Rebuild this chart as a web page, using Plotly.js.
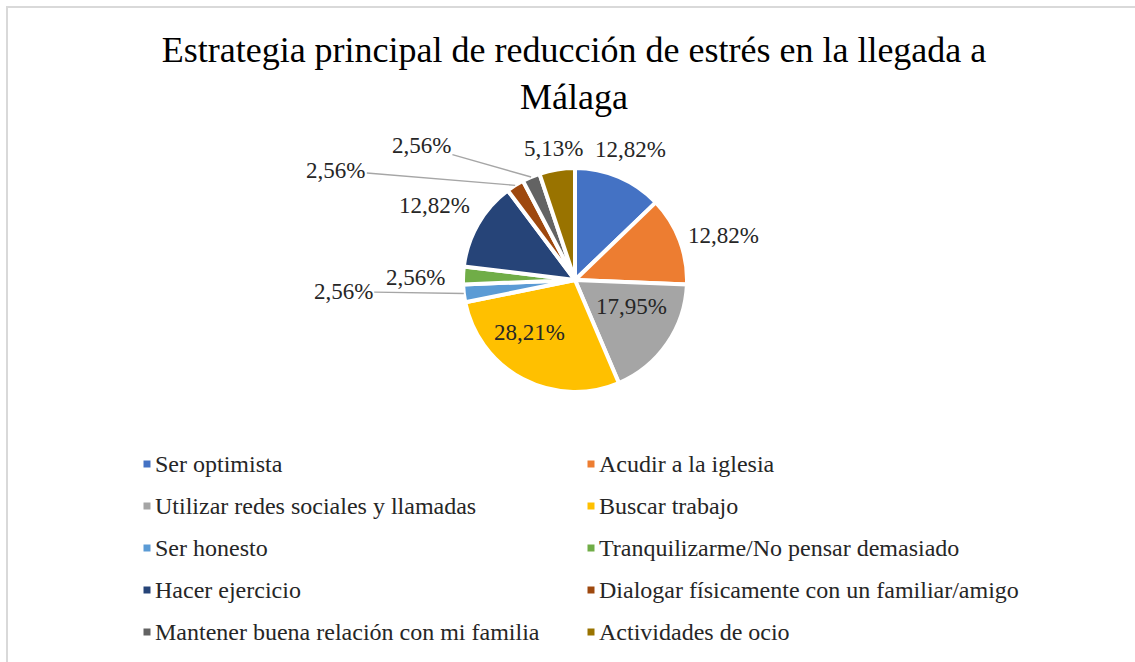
<!DOCTYPE html>
<html><head><meta charset="utf-8">
<script src="https://cdn.plot.ly/plotly-3.0.1.min.js"></script>
<style>html,body{margin:0;padding:0;background:#fff}</style>
</head><body><div id="chart" style="width:1135px;height:662px"></div>
<script>
const categories = [
  "Ser optimista",
  "Acudir a la iglesia",
  "Utilizar redes sociales y llamadas",
  "Buscar trabajo",
  "Ser honesto",
  "Tranquilizarme/No pensar demasiado",
  "Hacer ejercicio",
  "Dialogar físicamente con un familiar/amigo",
  "Mantener buena relación con mi familia",
  "Actividades de ocio"
];
const percentages = [12.82, 12.82, 17.95, 28.21, 2.56, 2.56, 12.82, 2.56, 2.56, 5.13];
const sliceColors = ["#4472C4", "#ED7D31", "#A5A5A5", "#FFC000", "#5B9BD5",
                     "#70AD47", "#264478", "#9E480E", "#636363", "#997300"];
const chartTitle = "Estrategia principal de reducción de estrés en la llegada a<br>Málaga";

const W = 1135, H = 662;
const cx = 575, cy = 280, R = 112;
const px = x => x / W, py = y => 1 - y / H;
const serif = "Liberation Serif";
const labelSize = 23;

const fmt = v => v.toFixed(2).replace('.', ',') + '%';

// slice mid angles (clockwise from 12 o'clock)
const total = percentages.reduce((a, b) => a + b, 0);
let cum = 0;
const mids = percentages.map(v => { const m = (cum + v / 2) / total * 2 * Math.PI; cum += v; return m; });

const insideIdx = new Set([2, 3]);
const insideR = {2: 0.56, 3: 0.62};
// label nudges in pixels (layout tweaks)
const nudge = {1: [4, 10], 2: [5, -9], 3: [-13, -9], 5: [-12, 3], 6: [-8, 2], 4: [-85, -6], 7: [-163, 11], 8: [-99, -6]};
const leaderIdx = new Set([4, 7, 8]);

const annotations = [];
percentages.forEach((v, i) => {
  const t = mids[i], s = Math.sin(t), c = Math.cos(t);
  const txt = fmt(v);
  const [nx, ny] = nudge[i] || [0, 0];
  let lx, ly;
  if (insideIdx.has(i)) {
    const r = R * insideR[i];
    lx = cx + r * s; ly = cy - r * c;
  } else {
    const digits = txt.replace(/[^0-9]/g, '').length;
    const hw = labelSize * (0.5 * digits + 0.25 + 0.833) / 2, hh = labelSize * 0.5;
    const d = R + 5 + hw * Math.abs(s) + hh * Math.abs(c);
    lx = cx + d * s; ly = cy - d * c;
  }
  lx += nx; ly += ny;
  if (leaderIdx.has(i)) {
    const ex = cx + R * s, ey = cy - R * c;
    annotations.push({x: px(ex), y: py(ey), xref: 'paper', yref: 'paper',
      ax: lx - ex, ay: ly - ey, axref: 'pixel', ayref: 'pixel',
      text: txt, showarrow: true, arrowhead: 0, arrowwidth: 1.4, arrowcolor: '#A6A6A6', standoff: 0,
      font: {family: serif, size: labelSize, color: '#262626'}});
  } else {
    annotations.push({x: px(lx), y: py(ly), xref: 'paper', yref: 'paper',
      text: txt, showarrow: false, xanchor: 'center', yanchor: 'middle',
      font: {family: serif, size: labelSize, color: '#262626'}});
  }
});

// legend (two columns)
const shapes = [{type: 'rect', xref: 'paper', yref: 'paper', x0: px(7), y0: py(7), x1: px(1145), y1: py(680),
  line: {color: '#D9D9D9', width: 2}, fillcolor: 'rgba(0,0,0,0)'}];
const colSym = [147, 591], rowY0 = 464, rowStep = 42;
categories.forEach((name, i) => {
  const col = i % 2, row = Math.floor(i / 2);
  const sx = colSym[col], sy = rowY0 + row * rowStep;
  shapes.push({type: 'rect', xref: 'paper', yref: 'paper', x0: px(sx - 3.5), x1: px(sx + 3.5),
    y0: py(sy - 3.5), y1: py(sy + 3.5), fillcolor: sliceColors[i], line: {width: 0}});
  annotations.push({x: px(sx + 6), y: py(sy), xref: 'paper', yref: 'paper', text: name,
    showarrow: false, xanchor: 'left', yanchor: 'middle',
    font: {family: serif, size: 24, color: '#262626'}});
});

const trace = {
  type: 'pie', values: percentages, labels: categories, sort: false,
  direction: 'clockwise', rotation: 0, textinfo: 'none', hoverinfo: 'label+percent',
  marker: {colors: sliceColors, line: {color: '#FFFFFF', width: 4}},
  domain: {x: [px(cx - R), px(cx + R)], y: [py(cy + R), py(cy - R)]},
  showlegend: false
};

const layout = {
  width: W, height: H, margin: {l: 0, r: 0, t: 0, b: 0},
  paper_bgcolor: '#FFFFFF',
  font: {family: serif},
  title: {text: chartTitle, x: px(574), xanchor: 'center', y: py(62), yanchor: 'top',
    font: {family: serif, size: 36, color: '#000000'}},
  annotations: annotations, shapes: shapes, showlegend: false
};

Plotly.newPlot('chart', [trace], layout, {displayModeBar: false, staticPlot: true});
</script></body></html>
